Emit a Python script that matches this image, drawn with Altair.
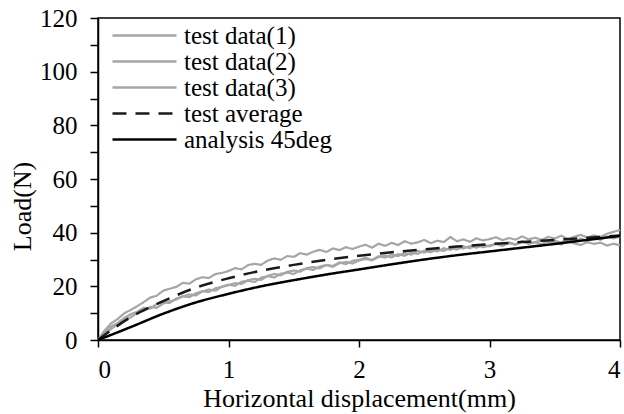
import altair as alt
import pandas as pd

# ---- data ----
x_fine = [round(i * 0.05, 2) for i in range(81)]
test1 = [0, 3.5, 6.2, 7.8, 9.9, 11.2, 12.6, 14.1, 15.8, 16.5, 18.4, 19.1, 19.8, 21.3, 21.0, 22.6, 23.4, 23.1, 24.6, 25.0, 25.7,
         26.8, 26.3, 27.9, 28.4, 28.0, 29.6, 30.4, 29.9, 31.3, 31.0, 32.4, 31.8, 32.9, 33.6, 32.8, 34.1, 33.5, 34.6, 33.9, 34.8,
         35.5, 34.4, 35.9, 35.1, 36.2, 35.4, 36.8, 35.9, 36.4, 37.3, 36.1, 37.0, 36.5, 38.4, 36.8, 37.5, 36.6, 37.9, 37.1, 37.6,
         38.3, 37.2, 38.0, 37.4, 38.6, 37.5, 38.1, 37.3, 38.4, 37.8, 38.9, 37.6, 38.5, 39.2, 38.1, 39.0, 38.4, 39.6, 40.3, 41.0]
test2 = [0, 2.0, 4.1, 5.8, 7.6, 8.4, 10.1, 10.9, 12.3, 12.0, 13.6, 14.4, 15.1, 16.3, 16.0, 17.4, 18.2, 17.9, 19.3, 19.8, 20.4,
         21.2, 20.9, 22.3, 22.8, 22.4, 23.9, 24.6, 24.1, 25.4, 25.9, 25.5, 26.8, 27.2, 26.7, 28.0, 27.6, 28.9, 28.3, 29.5, 29.9,
         30.6, 29.8, 31.2, 30.7, 31.9, 31.3, 32.4, 31.8, 33.2, 32.6, 33.5, 33.0, 34.2, 33.6, 34.7, 34.1, 35.0, 34.4, 35.5, 34.9,
         35.8, 35.1, 36.4, 35.6, 36.9, 35.8, 36.5, 37.2, 36.3, 37.0, 36.4, 37.5, 36.6, 37.8, 36.9, 38.2, 37.3, 38.6, 37.9, 38.5]
test3 = [0, 2.8, 5.0, 6.3, 8.2, 9.6, 10.5, 12.0, 11.7, 13.4, 14.1, 13.8, 15.5, 16.2, 17.0, 16.6, 18.1, 18.8, 18.4, 19.9, 20.6,
         20.2, 21.7, 22.1, 21.6, 23.2, 23.8, 23.3, 24.7, 25.1, 24.6, 26.0, 26.6, 26.1, 27.4, 27.9, 27.3, 28.6, 29.1, 28.5, 29.6,
         30.2, 29.7, 30.9, 31.5, 30.8, 32.0, 31.4, 32.6, 32.1, 33.3, 32.7, 33.8, 33.2, 34.4, 33.7, 34.9, 34.2, 35.4, 34.6, 35.2,
         35.9, 35.3, 36.1, 35.5, 36.7, 36.0, 36.4, 35.7, 36.9, 36.2, 35.6, 36.8, 36.0, 35.4, 36.5, 35.8, 36.3, 35.2, 35.9, 35.3]

x_coarse = [0, 0.25, 0.5, 0.75, 1.0, 1.25, 1.5, 1.75, 2.0, 2.25, 2.5, 2.75, 3.0, 3.25, 3.5, 3.75, 4.0]
average = [0, 8.5, 14.5, 19.5, 23.0, 25.8, 28.0, 29.9, 31.4, 32.7, 33.8, 34.8, 35.7, 36.5, 37.3, 38.1, 38.9]
analysis = [0, 4.8, 9.8, 14.0, 17.2, 20.0, 22.3, 24.4, 26.3, 28.2, 30.0, 31.6, 33.0, 34.4, 35.8, 37.3, 38.8]

series_names = ["test data(1)", "test data(2)", "test data(3)", "test average", "analysis 45deg"]
series_colors = ["#a6a6a6", "#a6a6a6", "#a6a6a6", "#1a1a1a", "#000000"]
series_dash = [[1, 0], [1, 0], [1, 0], [14, 9], [1, 0]]

x_ticks = [0, 0.5, 1, 1.5, 2, 2.5, 3, 3.5, 4]
y_ticks = [0, 10, 20, 30, 40, 50, 60, 70, 80, 90, 100, 110, 120]

rows = []
for name, ys in zip(series_names[:3], [test1, test2, test3]):
    for xv, yv in zip(x_fine, ys):
        rows.append({"x": xv, "y": yv, "series": name})
gray_df = pd.DataFrame(rows)

rows = []
for name, ys in zip(series_names[3:], [average, analysis]):
    for xv, yv in zip(x_coarse, ys):
        rows.append({"x": xv, "y": yv, "series": name})
smooth_df = pd.DataFrame(rows)

FONT = "Liberation Serif"

x_enc = alt.X("x:Q", scale=alt.Scale(domain=[0, 4], nice=False, zero=False),
              axis=alt.Axis(values=x_ticks, title="Horizontal displacement(mm)", format="d",
                            labelExpr="datum.value % 1 == 0 ? datum.label : ''",
                            grid=False, tickSize=7, tickWidth=1.5, tickColor="black",
                            domainColor="black", domainWidth=1.5,
                            labelFont=FONT, labelFontSize=25, labelColor="black", labelPadding=10,
                            titleFont=FONT, titleFontSize=26, titleFontWeight="normal",
                            titleColor="black", titlePadding=3))
y_enc = alt.Y("y:Q", scale=alt.Scale(domain=[0, 120], nice=False),
              axis=alt.Axis(values=y_ticks, title="Load(N)",
                            labelExpr="datum.value % 20 == 0 ? datum.label : ''",
                            grid=False, tickSize=8, tickWidth=1.5, tickColor="black",
                            domainColor="black", domainWidth=1.5,
                            labelFont=FONT, labelFontSize=25, labelColor="black", labelPadding=13,
                            titleFont=FONT, titleFontSize=26, titleFontWeight="normal",
                            titleColor="black", titleX=-76, titleY=188, titleAngle=270,
                            titleAlign="center", titleBaseline="middle"))

color_enc = alt.Color("series:N", scale=alt.Scale(domain=series_names, range=series_colors),
                      sort=series_names,
                      legend=alt.Legend(title=None, orient="none", legendX=34, legendY=5,
                                        symbolType="M-5,0H5", symbolSize=164, symbolStrokeWidth=2.5,
                                        symbolFillColor="transparent",
                                        labelFont=FONT, labelFontSize=25, labelColor="black",
                                        labelLimit=300, rowPadding=-0.5, labelOffset=27, padding=0))
dash_enc = alt.StrokeDash("series:N", scale=alt.Scale(domain=series_names, range=series_dash),
                          sort=series_names, legend=alt.Legend(title=None))

gray = alt.Chart(gray_df).mark_line(strokeWidth=2.2, interpolate="linear").encode(
    x=x_enc, y=y_enc, color=color_enc, strokeDash=dash_enc, detail="series:N")
smooth = alt.Chart(smooth_df).mark_line(strokeWidth=2.5, interpolate="monotone").encode(
    x=x_enc, y=y_enc, color=color_enc, strokeDash=dash_enc, detail="series:N")

chart = alt.layer(gray, smooth).properties(
    width=522, height=322,
    autosize=alt.AutoSizeParams(type="none"),
    padding={"left": 98, "top": 18, "right": 4, "bottom": 74},
    background="white",
).configure_view(stroke="black", strokeWidth=1.5)

chart.save("out.html", embed_options={"renderer": "svg", "actions": False})
